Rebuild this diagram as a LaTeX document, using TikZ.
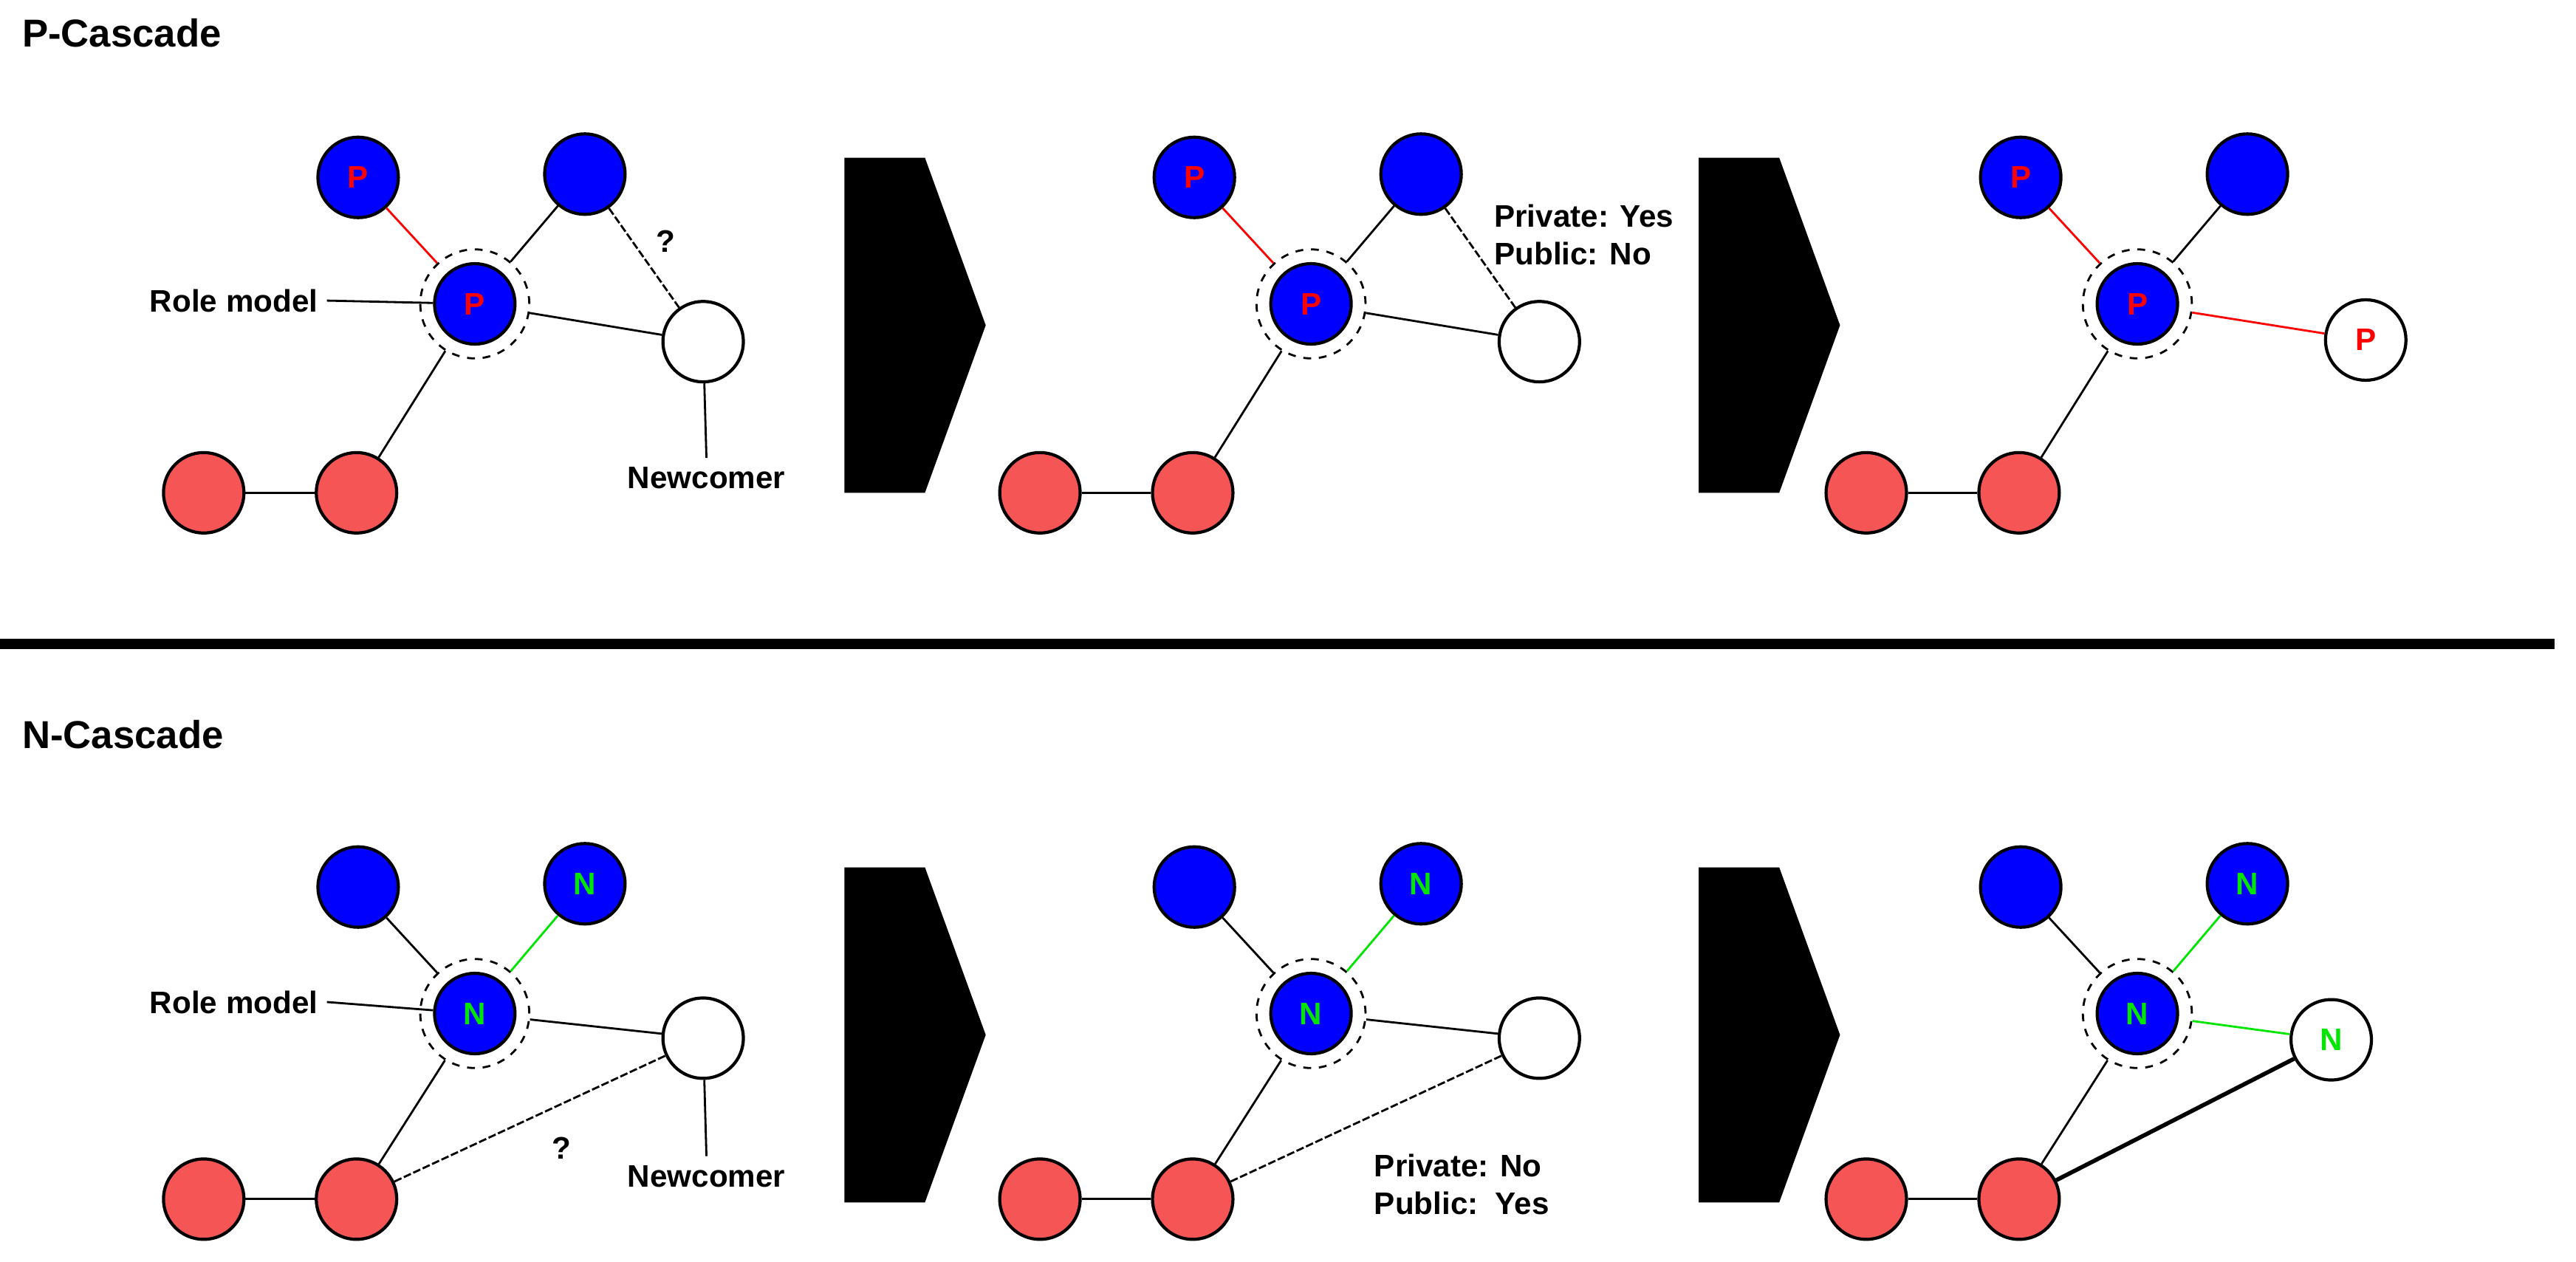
\documentclass[tikz,border=0pt]{standalone}
\usepackage{fontspec}
\setmainfont{Liberation Sans}
\usetikzlibrary{positioning}
\definecolor{nodeblue}{RGB}{0,0,255}
\definecolor{nodered}{RGB}{245,85,85}
\definecolor{ngreen}{RGB}{0,230,0}
\begin{document}
\begin{tikzpicture}[x=0.02225cm, y=-0.02225cm,
  every node/.style={font=\bfseries\fontsize{12}{14.5}\selectfont},
  agent/.style={circle, draw, line width=1.2pt, minimum size=31pt, inner sep=0pt},
  bagent/.style={agent, fill=nodeblue},
  ragent/.style={agent, fill=nodered},
  wagent/.style={agent, fill=white},
  ring/.style={circle, draw, dashed, line width=0.8pt, minimum size=42pt, inner sep=0pt},
  tie/.style={line width=0.8pt},
  ptie/.style={line width=0.8pt, draw=red},
  ntie/.style={line width=0.8pt, draw=ngreen},
  qtie/.style={line width=0.8pt, dashed, dash pattern=on 3pt off 1pt},
  ptxt/.style={text=red},
  ntxt/.style={text=ngreen},
  chevron/.style={fill=black},
  title/.style={font=\bfseries\fontsize{15}{17}\selectfont, anchor=west}]
\useasboundingbox (0,0) rectangle (1568,768);

% titles and separator
\node[title] (ttlp) at (8,20) {P-Cascade};
\node[title] (ttln) at (8,447) {N-Cascade};
\coordinate (sepl) at (0,392);
\coordinate (sepr) at (1555,392);
\draw[line width=3.8pt] (sepl) -- (sepr);

% chevrons
\foreach \cx/\cy in {514/96, 1034/96, 514/528, 1034/528}
  \fill[chevron] (\cx,\cy) -- ++(49,0) -- ++(37,102) -- ++(-37,102) -- ++(-49,0) -- cycle;

% ---------- P-Cascade, step 1 ----------
\node[bagent, ptxt] (pa1) at (218,108) {P};
\node[bagent] (pb1) at (356,106) {};
\node[bagent, ptxt] (pr1) at (289,185) {P};
\node[ring] (pc1) at (289,185) {};
\node[wagent] (pn1) at (428,208) {};
\node[ragent] (pl1) at (124,300) {};
\node[ragent] (pm1) at (217,300) {};
\node[anchor=east] (prm1) at (199,183) {Role model};
\node (pnc1) at (430,291) {Newcomer};
\node (pq1) at (405,147) {?};
\draw[ptie] (pa1) -- (pc1);
\draw[tie] (pb1) -- (pc1);
\draw[tie] (pc1) -- (pn1);
\draw[tie] (pc1) -- (pm1);
\draw[tie] (pl1) -- (pm1);
\draw[qtie] (pb1) -- (pn1);
\draw[tie] (prm1.east) -- (pr1);
\draw[tie] (pn1) -- (pnc1.north);

% ---------- P-Cascade, step 2 ----------
\node[bagent, ptxt] (pa2) at (727,108) {P};
\node[bagent] (pb2) at (865,106) {};
\node[bagent, ptxt] (pr2) at (798,185) {P};
\node[ring] (pc2) at (798,185) {};
\node[wagent] (pn2) at (937,208) {};
\node[ragent] (pl2) at (633,300) {};
\node[ragent] (pm2) at (726,300) {};
\node[anchor=west, align=left] (pi2) at (904,143) {Private: Yes\\Public: No};
\draw[ptie] (pa2) -- (pc2);
\draw[tie] (pb2) -- (pc2);
\draw[tie] (pc2) -- (pn2);
\draw[tie] (pc2) -- (pm2);
\draw[tie] (pl2) -- (pm2);
\draw[qtie] (pb2) -- (pn2);

% ---------- P-Cascade, step 3 ----------
\node[bagent, ptxt] (pa3) at (1230,108) {P};
\node[bagent] (pb3) at (1368,106) {};
\node[bagent, ptxt] (pr3) at (1301,185) {P};
\node[ring] (pc3) at (1301,185) {};
\node[wagent, ptxt] (pn3) at (1440,207) {P};
\node[ragent] (pl3) at (1136,300) {};
\node[ragent] (pm3) at (1229,300) {};
\draw[ptie] (pa3) -- (pc3);
\draw[tie] (pb3) -- (pc3);
\draw[ptie] (pc3) -- (pn3);
\draw[tie] (pc3) -- (pm3);
\draw[tie] (pl3) -- (pm3);

% ---------- N-Cascade, step 1 ----------
\node[bagent] (na1) at (218,540) {};
\node[bagent, ntxt] (nb1) at (356,538) {N};
\node[bagent, ntxt] (nr1) at (289,617) {N};
\node[ring] (nc1) at (289,617) {};
\node[wagent] (nn1) at (428,632) {};
\node[ragent] (nl1) at (124,730) {};
\node[ragent] (nm1) at (217,730) {};
\node[anchor=east] (nrm1) at (199,610) {Role model};
\node (nnc1) at (430,716) {Newcomer};
\node (nq1) at (342,699) {?};
\draw[tie] (na1) -- (nc1);
\draw[ntie] (nb1) -- (nc1);
\draw[tie] (nc1) -- (nn1);
\draw[tie] (nc1) -- (nm1);
\draw[tie] (nl1) -- (nm1);
\draw[qtie] (nm1) -- (nn1);
\draw[tie] (nrm1.east) -- (nr1);
\draw[tie] (nn1) -- (nnc1.north);

% ---------- N-Cascade, step 2 ----------
\node[bagent] (na2) at (727,540) {};
\node[bagent, ntxt] (nb2) at (865,538) {N};
\node[bagent, ntxt] (nr2) at (798,617) {N};
\node[ring] (nc2) at (798,617) {};
\node[wagent] (nn2) at (937,632) {};
\node[ragent] (nl2) at (633,730) {};
\node[ragent] (nm2) at (726,730) {};
\node[anchor=west, align=left] (ni2) at (831,721) {Private: No\\Public:\ \ Yes};
\draw[tie] (na2) -- (nc2);
\draw[ntie] (nb2) -- (nc2);
\draw[tie] (nc2) -- (nn2);
\draw[tie] (nc2) -- (nm2);
\draw[tie] (nl2) -- (nm2);
\draw[qtie] (nm2) -- (nn2);

% ---------- N-Cascade, step 3 ----------
\node[bagent] (na3) at (1230,540) {};
\node[bagent, ntxt] (nb3) at (1368,538) {N};
\node[bagent, ntxt] (nr3) at (1301,617) {N};
\node[ring] (nc3) at (1301,617) {};
\node[wagent, ntxt] (nn3) at (1419,633) {N};
\node[ragent] (nl3) at (1136,730) {};
\node[ragent] (nm3) at (1229,730) {};
\draw[tie] (na3) -- (nc3);
\draw[ntie] (nb3) -- (nc3);
\draw[ntie] (nc3) -- (nn3);
\draw[tie] (nc3) -- (nm3);
\draw[tie] (nl3) -- (nm3);
\draw[line width=1.6pt] (nm3) -- (nn3);
\end{tikzpicture}
\end{document}
